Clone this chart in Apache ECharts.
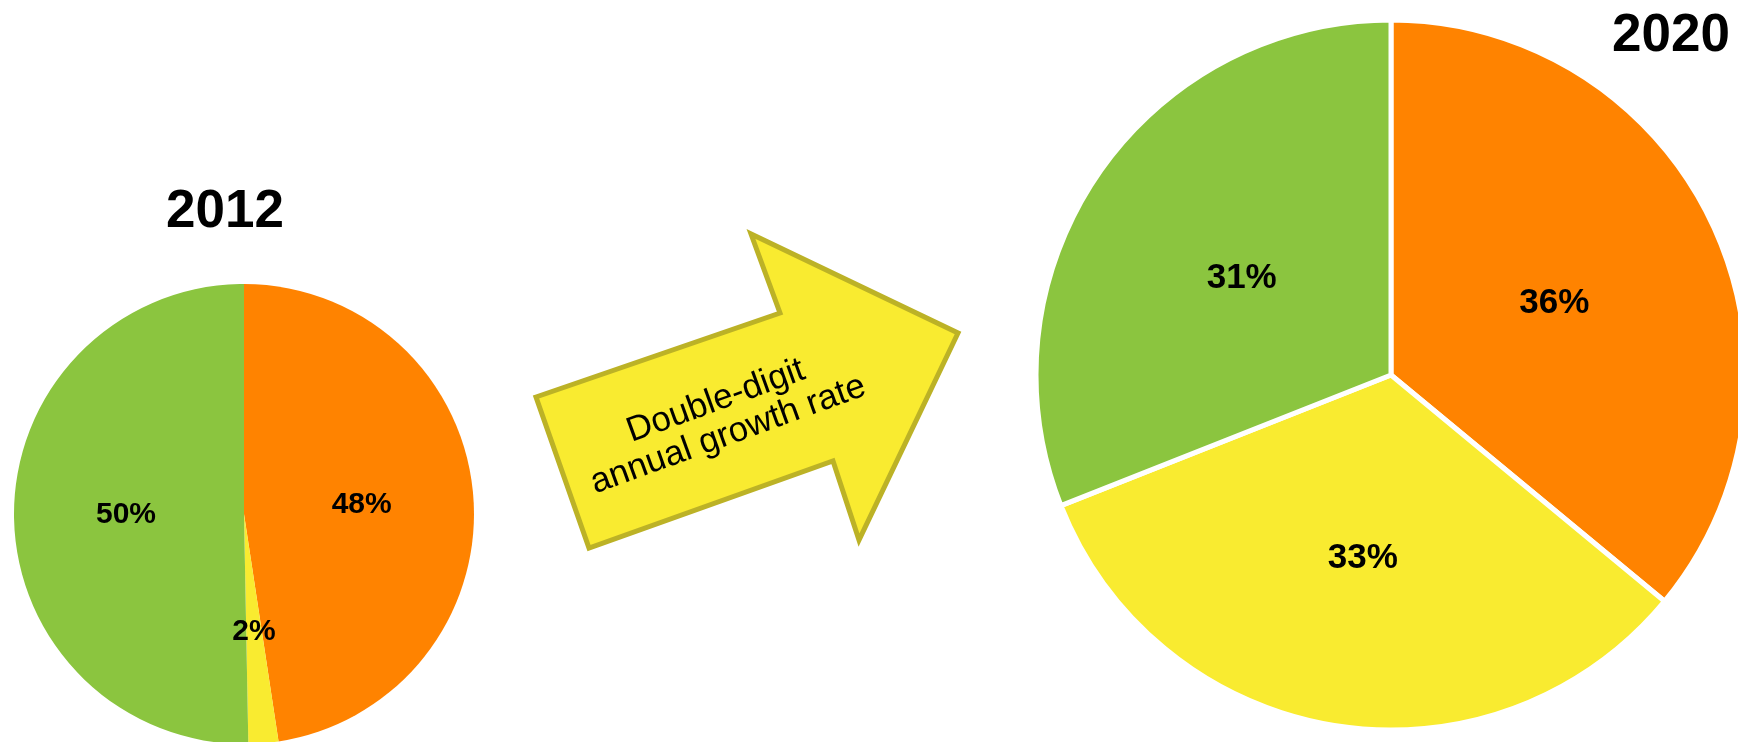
<!DOCTYPE html>
<html>
<head>
<meta charset="utf-8">
<script src="https://cdn.jsdelivr.net/npm/echarts@6/dist/echarts.min.js"></script>
<style>
  html, body { margin: 0; padding: 0; background: #fff; }
  #chart { width: 1738px; height: 742px; }
</style>
</head>
<body>
<div id="chart"></div>
<script>
// slices, clockwise from 12 o'clock
const categories = ['Segment A', 'Segment B', 'Segment C']
const colors = ['#ff8300', '#f9eb30', '#8bc53f']
// labels show them rounded
const share2012 = [47.6, 2.1, 50.3]
const share2020 = [36, 33, 31]
const years = ['2012', '2020']
const arrowText = 'Double-digit\nannual growth rate'

const font = '"Liberation Sans", Arial, Helvetica, sans-serif'

function toData(values) {
    return values.map((v, i) => ({
        name: categories[i],
        value: v,
        itemStyle: { color: colors[i] }
    }))
}

function pieLabel(size, dy) {
    return {
        show: true,
        position: 'inside',
        formatter: (p) => Math.round(p.value) + '%',
        color: '#000',
        fontSize: size,
        fontWeight: 'bold',
        fontFamily: font,
        offset: [0, dy]
    }
}

let chart = echarts.init(document.getElementById('chart'))

let option = {
    animation: false,
    backgroundColor: '#fff',
    series: [
        {
            name: years[0],
            type: 'pie',
            center: [244, 514],
            radius: 230,
            startAngle: 90,
            clockwise: true,
            avoidLabelOverlap: false,
            label: pieLabel(30, 0),
            labelLine: { show: false },
            itemStyle: { borderWidth: 0 },
            emphasis: { scale: false },
            data: toData(share2012)
        },
        {
            name: years[1],
            type: 'pie',
            center: [1391, 375],
            radius: 355,
            startAngle: 90,
            clockwise: true,
            avoidLabelOverlap: false,
            label: pieLabel(35, 5),
            labelLine: { show: false },
            itemStyle: { borderColor: '#fff', borderWidth: 5 },
            emphasis: { scale: false },
            data: toData(share2020)
        }
    ],
    graphic: [
        {
            type: 'text',
            x: 225, y: 212,
            style: {
                text: years[0], fill: '#000', align: 'center', verticalAlign: 'middle',
                font: 'bold 53px ' + font
            }
        },
        {
            type: 'text',
            x: 1671, y: 36,
            style: {
                text: years[1], fill: '#000', align: 'center', verticalAlign: 'middle',
                font: 'bold 53px ' + font
            }
        },
        {
            // the arrow between the two pies
            type: 'polygon',
            shape: {
                points: [[536, 397], [780, 313], [751, 234], [958, 333], [859, 540], [833, 461], [589, 548]]
            },
            style: { fill: '#f9eb30', stroke: '#bcb226', lineWidth: 5, lineJoin: 'miter' }
        },
        {
            type: 'text',
            x: 722, y: 418,
            rotation: 20 * Math.PI / 180,
            style: {
                text: arrowText, fill: '#000', align: 'center', verticalAlign: 'middle',
                font: '35px ' + font, lineHeight: 36
            }
        }
    ]
}
chart.setOption(option)
</script>
</body>
</html>
